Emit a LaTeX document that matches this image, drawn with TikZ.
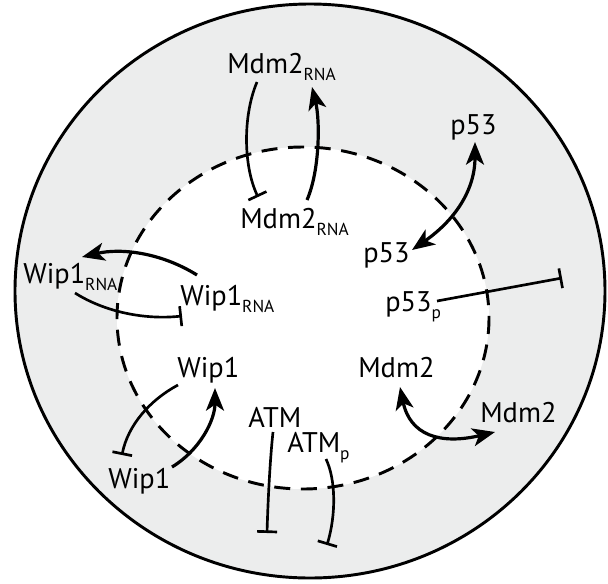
\documentclass[tikz,border=0pt]{standalone}
\usepackage{fontspec}
\setmainfont{PT Sans}
\usetikzlibrary{arrows.meta,calc}
\definecolor{cellgray}{RGB}{236,237,237}
\newcommand{\lowidx}[1]{\raisebox{-0.27em}{\fontsize{13}{13}\selectfont #1}}

\tikzset{
  lbl/.style={anchor=base west, inner sep=0pt, font=\fontsize{21.3}{25}\selectfont},
  act/.style={line width=2.4pt, -{Stealth[length=17pt,width=13.5pt,inset=4.5pt]}},
  actboth/.style={line width=2.4pt, {Stealth[length=17pt,width=13.5pt,inset=4.5pt]}-{Stealth[length=17pt,width=13.5pt,inset=4.5pt]}},
  inh/.style={line width=2pt, -{Bar[width=15pt]}},
}

\begin{document}
\begin{tikzpicture}[x=0.75pt,y=0.75pt,yscale=-1,xscale=1]
\useasboundingbox (0,0) rectangle (608,583);

%Shape: Ellipse (cell)
\draw[fill=cellgray, line width=2.2pt] (310,291) ellipse [x radius=295, y radius=287];
%Shape: Ellipse (nucleus)
\draw[fill=white, line width=2.2pt, dash pattern=on 12pt off 8pt] (303,318) ellipse [x radius=186, y radius=171];

% Text Node
\node[lbl] (mrnaC) at (227,73) {Mdm2\lowidx{RNA}};
% Text Node
\node[lbl] (mrnaN) at (240,228) {Mdm2\lowidx{RNA}};
% Text Node
\node[lbl] (p53C) at (450,134) {p53};
% Text Node
\node[lbl] (p53N) at (363,262) {p53};
% Text Node
\node[lbl] (p53pN) at (385,311) {p53\lowidx{p}};
% Text Node
\node[lbl] (wrnaC) at (23,283) {Wip1\lowidx{RNA}};
% Text Node
\node[lbl] (wrnaN) at (180,305) {Wip1\lowidx{RNA}};
% Text Node
\node[lbl] (wipN) at (177,377) {Wip1};
% Text Node
\node[lbl] (wipC) at (108,488) {Wip1};
% Text Node
\node[lbl] (mdmN) at (358,377) {Mdm2};
% Text Node
\node[lbl] (mdmC) at (480,422) {Mdm2};
% Text Node
\node[lbl] (atmN) at (248,427) {ATM};
% Text Node
\node[lbl] (atmpN) at (287,452) {ATM\lowidx{p}};

\coordinate (p53end) at (562,278);
\coordinate (atmend) at (267,533);
\coordinate (atmpend) at (327,545);

%Curve Lines
\draw[inh] ($(mrnaC.base west)+(30,9)$) .. controls (243,115) and (243,165) .. ($(mrnaN.base west)+(18,-31)$);
\draw[act] ($(mrnaN.base west)+(67,-28)$) .. controls (320,170) and (320,120) .. ($(mrnaC.base west)+(85,14)$);
%Curve Lines
\draw[actboth] ($(p53C.base west)+(25,8)$) .. controls (475,190) and (455,220) .. ($(p53N.base west)+(49,-12)$);
%Straight Lines
\draw[inh] ($(p53pN.base west)+(52,-10)$) -- (p53end);
%Curve Lines
\draw[act] ($(wrnaN.base west)+(17,-30)$) .. controls (160,252) and (120,248) .. ($(wrnaC.base west)+(59,-26)$);
\draw[inh] ($(wrnaC.base west)+(52,10)$) .. controls (105,312) and (145,320) .. ($(wrnaN.base west)+(2,11)$);
%Curve Lines
\draw[inh] ($(wipN.base west)+(1,8)$) .. controls (150,400) and (128,425) .. ($(wipC.base west)+(14,-33)$);
\draw[act] ($(wipC.base west)+(64,-21)$) .. controls (200,450) and (215,420) .. ($(wipN.base west)+(38,11)$);
%Curve Lines
\draw[inh] ($(atmN.base west)+(25,5)$) .. controls (270,460) and (268,500) .. (atmend);
\draw[inh] ($(atmpN.base west)+(39,7)$) .. controls (336,480) and (336,515) .. (atmpend);
%Curve Lines
\draw[actboth] ($(mdmN.base west)+(42,10)$) .. controls (410,435) and (440,445) .. ($(mdmC.base west)+(15,10)$);

\end{tikzpicture}
\end{document}
